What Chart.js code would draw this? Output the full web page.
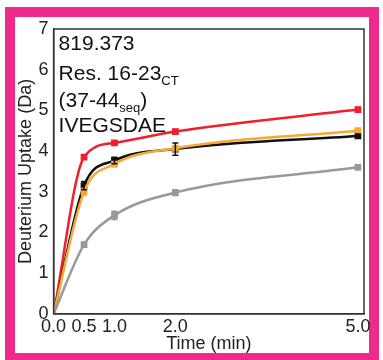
<!DOCTYPE html>
<html>
<head>
<meta charset="utf-8">
<script src="https://cdn.jsdelivr.net/npm/chart.js@4"></script>
<style>
  body { margin: 0; background: #fff; }
  #frame { position: absolute; left: 5px; top: 7px; width: 354px; height: 336px; border: 10px solid #ee2a8b; }
  #wrap { position: absolute; left: 0; top: 0; width: 383px; height: 360px; }
</style>
</head>
<body>
<div id="frame"></div>
<div id="wrap"><canvas id="grafico"></canvas></div>
<script>
const tempos = [0, 0.5, 1, 2, 5];
const vermelho = [0, 3.85, 4.2, 4.48, 5.02];
const laranja = [0, 3.0, 3.68, 4.07, 4.5];
const preto = [0, 3.15, 3.77, 4.05, 4.37];
const cinza = [0, 1.7, 2.42, 2.98, 3.6];

const erroVermelho = [0, 0.05, 0.04, 0.05, 0.05];
const erroLaranja = [0, 0.08, 0.06, 0.06, 0.05];
const erroPreto = [0, 0.1, 0.08, 0.15, 0.05];
const erroCinza = [0, 0.05, 0.1, 0.07, 0.05];

const ticksX = [0, 0.5, 1, 2, 5];
const rotulosX = ["0.0", "0.5", "1.0", "2.0", "5.0"];
const ticksY = [0, 1, 2, 3, 4, 5, 6, 7];

const fonte = "'Liberation Sans', Arial, sans-serif";

function serie(valores, erros, cor) {
    return {
        data: tempos.map((t, i) => ({ x: t, y: valores[i], e: erros[i] })),
        borderColor: cor,
        backgroundColor: cor,
        borderWidth: 2.5,
        pointStyle: "rect",
        pointRadius: tempos.map(t => t === 0 ? 0 : 3),
        cubicInterpolationMode: "monotone",
        fill: false
    };
}

// caixa do gráfico, barras de erro e texto do peptídeo
const extras = {
    id: "extras",
    afterDatasetsDraw(chart) {
        const c = chart.ctx;
        const area = chart.chartArea;
        const sx = chart.scales.x;
        const sy = chart.scales.y;

        chart.data.datasets.forEach(ds => {
            c.save();
            c.strokeStyle = ds.borderColor;
            c.lineWidth = 1.5;
            ds.data.forEach(p => {
                if (!p.e) return;
                const px = sx.getPixelForValue(p.x);
                const y1 = sy.getPixelForValue(p.y - p.e);
                const y2 = sy.getPixelForValue(p.y + p.e);
                c.beginPath();
                c.moveTo(px, y1); c.lineTo(px, y2);
                c.moveTo(px - 3, y1); c.lineTo(px + 3, y1);
                c.moveTo(px - 3, y2); c.lineTo(px + 3, y2);
                c.stroke();
            });
            c.restore();
        });

        c.save();
        c.strokeStyle = "#333";
        c.lineWidth = 1.5;
        c.strokeRect(area.left, area.top, area.right - area.left, area.bottom - area.top);

        c.fillStyle = "#111";
        c.textBaseline = "alphabetic";
        const x0 = area.left + 5;
        c.font = "21px " + fonte;
        c.fillText("819.373", x0, area.top + 21);

        c.fillText("Res. 16-23", x0, area.top + 51);
        let w = c.measureText("Res. 16-23").width;
        c.font = "13px " + fonte;
        c.fillText("CT", x0 + w, area.top + 56);

        c.font = "21px " + fonte;
        c.fillText("(37-44", x0, area.top + 78);
        w = c.measureText("(37-44").width;
        c.font = "13px " + fonte;
        c.fillText("seq", x0 + w, area.top + 83);
        const w2 = c.measureText("seq").width;
        c.font = "21px " + fonte;
        c.fillText(")", x0 + w + w2, area.top + 78);

        c.fillText("IVEGSDAE", x0, area.top + 103);
        c.restore();
    }
};

const ctx = document.getElementById("grafico").getContext("2d");
const grafico = new Chart(ctx, {
    type: "line",
    data: {
        datasets: [
            serie(cinza, erroCinza, "#999999"),
            serie(laranja, erroLaranja, "#f5a935"),
            serie(preto, erroPreto, "#111111"),
            serie(vermelho, erroVermelho, "#ee1f2f")
        ]
    },
    options: {
        responsive: true,
        maintainAspectRatio: false,
        animation: false,
        layout: { padding: { left: 15, top: 29, right: 19, bottom: 5 } },
        plugins: { legend: { display: false }, tooltip: { enabled: false } },
        scales: {
            x: {
                type: "linear",
                min: 0,
                max: 5.1,
                afterBuildTicks: axis => { axis.ticks = ticksX.map(v => ({ value: v })); },
                grid: { display: false, drawTicks: true, tickLength: 4, tickColor: "#333" },
                border: { display: true, color: "#333", width: 1.5 },
                ticks: {
                    color: "#222",
                    font: { family: fonte, size: 18 },
                    padding: -2,
                    maxRotation: 0,
                    autoSkip: false,
                    callback: v => rotulosX[ticksX.indexOf(v)]
                },
                title: { display: true, text: "Time (min)", color: "#222", font: { family: fonte, size: 18 }, padding: { top: -2, bottom: 0 } }
            },
            y: {
                min: 0,
                max: 7,
                afterBuildTicks: axis => { axis.ticks = ticksY.map(v => ({ value: v })); },
                grid: { display: false, drawTicks: true, tickLength: 4, tickColor: "#333" },
                border: { display: true, color: "#333", width: 1.5 },
                ticks: { color: "#222", font: { family: fonte, size: 18 }, padding: 1 },
                title: { display: true, text: "Deuterium Uptake (Da)", color: "#222", font: { family: fonte, size: 18 }, padding: { top: 0, bottom: 1 } }
            }
        }
    },
    plugins: [extras]
});
</script>
</body>
</html>
